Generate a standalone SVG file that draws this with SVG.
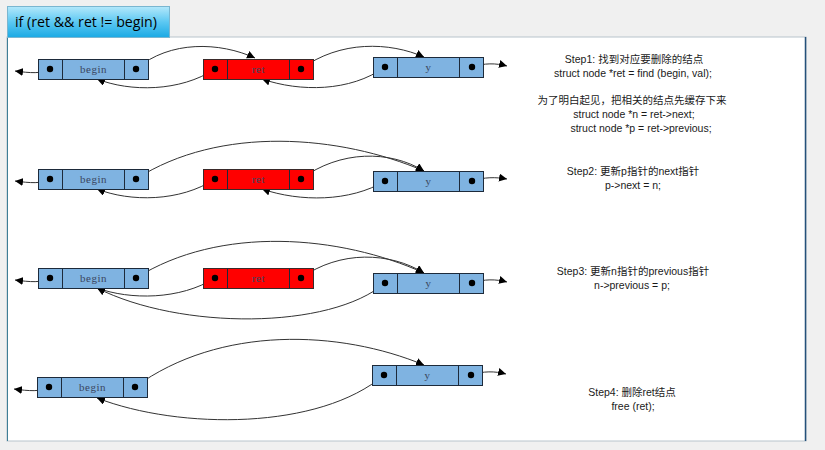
<svg xmlns="http://www.w3.org/2000/svg" width="825" height="450" viewBox="0 0 825 450">
<defs>
<linearGradient id="tabg" x1="0" y1="0" x2="0" y2="1">
<stop offset="0" stop-color="#b4e8fb"/>
<stop offset="0.5" stop-color="#5cc8f2"/>
<stop offset="1" stop-color="#1aa9e4"/>
</linearGradient>
<marker id="ah" viewBox="0 0 10 10" refX="10" refY="5" markerWidth="8" markerHeight="8" markerUnits="userSpaceOnUse" orient="auto">
<path d="M0,0 L10,5 L0,10 z" fill="#000"/>
</marker>
<style>
.blue{fill:#7fb3e1;stroke:#1d2a3a;stroke-width:1}
.red{fill:#ff0000;stroke:#3a2a2a;stroke-width:1}
.div{stroke:#1d2a3a;stroke-width:1}
.dot{fill:#000}
.lbl{font-family:"Liberation Serif","DejaVu Serif",serif;font-size:11px;fill:#3a4660;text-anchor:middle;letter-spacing:0.5px}
.c{fill:none;stroke:#333;stroke-width:1;marker-end:url(#ah)}
.t{font-family:"Liberation Sans","Noto Sans CJK SC",sans-serif;font-size:10.5px;fill:#1a1a1a;text-anchor:middle}
</style>
</defs>
<rect x="0" y="0" width="825" height="450" fill="#f0f0f0"/>
<rect x="7" y="37" width="799" height="404" fill="#fff" stroke="#b8c4cc" stroke-width="1"/>
<line x1="7.5" y1="37" x2="7.5" y2="441" stroke="#3e7e96" stroke-width="1"/>
<line x1="805.5" y1="37" x2="805.5" y2="441" stroke="#24507a" stroke-width="1.5"/>
<g id="tab">
<rect x="7.5" y="6.5" width="162" height="31" fill="url(#tabg)" stroke="#7ab6d0" stroke-width="1"/>
<text x="15" y="27" font-family="'Open Sans','Liberation Sans',sans-serif" font-size="14.2" fill="#000">if (ret &amp;&amp; ret != begin)</text>
</g>

<g id="connectors">
<path class="c" d="M50,69 C42,74 30,73 15,71"/>
<path class="c" d="M136,69 C170,40 220,42 255,58"/>
<path class="c" d="M215,69 C180,92 130,92 97,79"/>
<path class="c" d="M301,69 C340,40 390,42 424,57"/>
<path class="c" d="M385,67 C350,92 300,92 262,79"/>
<path class="c" d="M472,67 C484,63 496,63 507,66"/>

<path class="c" d="M50,179 C42,184 30,183 15,181"/>
<path class="c" d="M136,179 C220,125 340,135 424,171"/>
<path class="c" d="M301,179 C340,150 390,150 424,171"/>
<path class="c" d="M215,179 C180,202 130,202 97,189"/>
<path class="c" d="M385,181 C350,202 300,202 262,189"/>
<path class="c" d="M472,181 C484,177 496,177 507,179"/>

<path class="c" d="M50,278 C42,283 30,282 15,280"/>
<path class="c" d="M136,278 C220,225 340,235 424,273"/>
<path class="c" d="M301,278 C340,250 390,252 424,273"/>
<path class="c" d="M215,278 C180,300 130,300 97,288"/>
<path class="c" d="M385,283 C330,330 180,330 97,288"/>
<path class="c" d="M472,283 C484,279 496,279 507,282"/>

<path class="c" d="M49,387 C41,392 29,391 14,389"/>
<path class="c" d="M135,387 C220,325 340,330 424,365"/>
<path class="c" d="M384,375 C320,430 180,430 97,398"/>
<path class="c" d="M471,375 C483,371 495,371 506,374"/>
</g>

<g id="r1-begin">
<rect class="blue" x="38.5" y="59.5" width="110" height="20"/>
<line class="div" x1="62.5" y1="59.5" x2="62.5" y2="79.5"/><line class="div" x1="124.5" y1="59.5" x2="124.5" y2="79.5"/>
<circle class="dot" cx="50" cy="69" r="3.2"/><circle class="dot" cx="136" cy="69" r="3.2"/>
<text class="lbl" x="93.5" y="73">begin</text>
</g>
<g id="r1-ret">
<rect class="red" x="203.5" y="59.5" width="110" height="20"/>
<line class="div" x1="227.5" y1="59.5" x2="227.5" y2="79.5"/><line class="div" x1="289.5" y1="59.5" x2="289.5" y2="79.5"/>
<circle class="dot" cx="215" cy="69" r="3.2"/><circle class="dot" cx="301" cy="69" r="3.2"/>
<text class="lbl" x="258.5" y="73">ret</text>
</g>
<g id="r1-y">
<rect class="blue" x="373.5" y="57.5" width="110" height="20"/>
<line class="div" x1="397.5" y1="57.5" x2="397.5" y2="77.5"/><line class="div" x1="459.5" y1="57.5" x2="459.5" y2="77.5"/>
<circle class="dot" cx="385" cy="67" r="3.2"/><circle class="dot" cx="472" cy="67" r="3.2"/>
<text class="lbl" x="428.5" y="71">y</text>
</g>

<g id="r2-begin">
<rect class="blue" x="38.5" y="169.5" width="110" height="20"/>
<line class="div" x1="62.5" y1="169.5" x2="62.5" y2="189.5"/><line class="div" x1="124.5" y1="169.5" x2="124.5" y2="189.5"/>
<circle class="dot" cx="50" cy="179" r="3.2"/><circle class="dot" cx="136" cy="179" r="3.2"/>
<text class="lbl" x="93.5" y="183">begin</text>
</g>
<g id="r2-ret">
<rect class="red" x="203.5" y="169.5" width="110" height="20"/>
<line class="div" x1="227.5" y1="169.5" x2="227.5" y2="189.5"/><line class="div" x1="289.5" y1="169.5" x2="289.5" y2="189.5"/>
<circle class="dot" cx="215" cy="179" r="3.2"/><circle class="dot" cx="301" cy="179" r="3.2"/>
<text class="lbl" x="258.5" y="183">ret</text>
</g>
<g id="r2-y">
<rect class="blue" x="373.5" y="171.5" width="110" height="20"/>
<line class="div" x1="397.5" y1="171.5" x2="397.5" y2="191.5"/><line class="div" x1="459.5" y1="171.5" x2="459.5" y2="191.5"/>
<circle class="dot" cx="385" cy="181" r="3.2"/><circle class="dot" cx="472" cy="181" r="3.2"/>
<text class="lbl" x="428.5" y="185">y</text>
</g>

<g id="r3-begin">
<rect class="blue" x="38.5" y="268.5" width="110" height="20"/>
<line class="div" x1="62.5" y1="268.5" x2="62.5" y2="288.5"/><line class="div" x1="124.5" y1="268.5" x2="124.5" y2="288.5"/>
<circle class="dot" cx="50" cy="278" r="3.2"/><circle class="dot" cx="136" cy="278" r="3.2"/>
<text class="lbl" x="93.5" y="282">begin</text>
</g>
<g id="r3-ret">
<rect class="red" x="203.5" y="268.5" width="110" height="20"/>
<line class="div" x1="227.5" y1="268.5" x2="227.5" y2="288.5"/><line class="div" x1="289.5" y1="268.5" x2="289.5" y2="288.5"/>
<circle class="dot" cx="215" cy="278" r="3.2"/><circle class="dot" cx="301" cy="278" r="3.2"/>
<text class="lbl" x="258.5" y="282">ret</text>
</g>
<g id="r3-y">
<rect class="blue" x="373.5" y="273.5" width="110" height="20"/>
<line class="div" x1="397.5" y1="273.5" x2="397.5" y2="293.5"/><line class="div" x1="459.5" y1="273.5" x2="459.5" y2="293.5"/>
<circle class="dot" cx="385" cy="283" r="3.2"/><circle class="dot" cx="472" cy="283" r="3.2"/>
<text class="lbl" x="428.5" y="287">y</text>
</g>

<g id="r4-begin">
<rect class="blue" x="37.5" y="377.5" width="110" height="20"/>
<line class="div" x1="61.5" y1="377.5" x2="61.5" y2="397.5"/><line class="div" x1="123.5" y1="377.5" x2="123.5" y2="397.5"/>
<circle class="dot" cx="49" cy="387" r="3.2"/><circle class="dot" cx="135" cy="387" r="3.2"/>
<text class="lbl" x="92.5" y="391">begin</text>
</g>
<g id="r4-y">
<rect class="blue" x="372.5" y="365.5" width="110" height="20"/>
<line class="div" x1="396.5" y1="365.5" x2="396.5" y2="385.5"/><line class="div" x1="458.5" y1="365.5" x2="458.5" y2="385.5"/>
<circle class="dot" cx="384" cy="375" r="3.2"/><circle class="dot" cx="471" cy="375" r="3.2"/>
<text class="lbl" x="427.5" y="379">y</text>
</g>

<g id="notes">
<text class="t" x="634" y="63">Step1: 找到对应要删除的结点</text>
<text class="t" x="633" y="77">struct node *ret = find (begin, val);</text>
<text class="t" x="632" y="104">为了明白起见，把相关的结点先缓存下来</text>
<text class="t" x="634" y="118">struct node *n = ret-&gt;next;</text>
<text class="t" x="641" y="132">struct node *p = ret-&gt;previous;</text>
<text class="t" x="633" y="175">Step2: 更新p指针的next指针</text>
<text class="t" x="633" y="189">p-&gt;next = n;</text>
<text class="t" x="633" y="275">Step3: 更新n指针的previous指针</text>
<text class="t" x="632" y="289">n-&gt;previous = p;</text>
<text class="t" x="632" y="396">Step4: 删除ret结点</text>
<text class="t" x="633" y="410">free (ret);</text>
</g>
</svg>
